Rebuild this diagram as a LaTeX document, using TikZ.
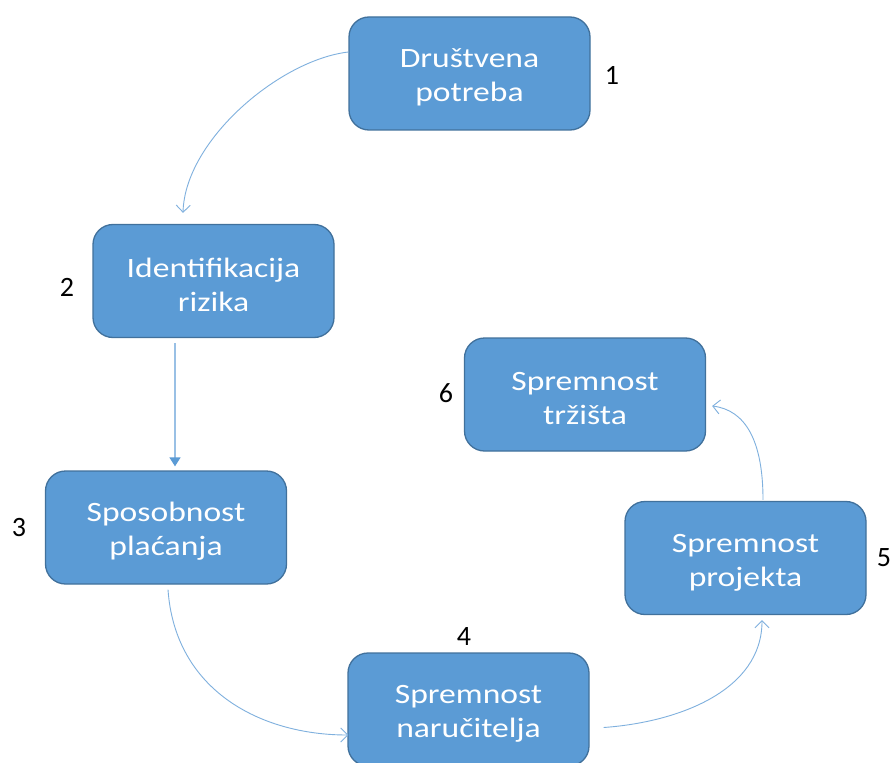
\documentclass[tikz,border=0pt]{standalone}
\usepackage{fontspec}
\setmainfont{Carlito}
\newfontfamily\boxfont[FakeStretch=1.2]{Carlito}
\usetikzlibrary{arrows.meta,calc}
\definecolor{boxfill}{HTML}{5B9BD5}
\definecolor{boxline}{HTML}{41719C}
\definecolor{arrowcol}{HTML}{7FB0DE}
\newcommand{\lowertext}{\rule{0pt}{27pt}}
\tikzset{
  stepbox/.style={draw=boxline, line width=1.3pt, fill=boxfill, rounded corners=20pt,
    minimum width=241pt, minimum height=113pt, align=center, text=white,
    font=\boxfont\fontsize{28}{34}\selectfont, inner sep=0pt},
  numlabel/.style={font=\fontsize{28}{34}\selectfont, text=black, inner sep=0pt},
  conn/.style={draw=arrowcol, line width=0.9pt, -{Straight Barb[length=7pt,width=14pt]}},
  connf/.style={draw=arrowcol!80, line width=1.4pt, -{Triangle[length=9pt,width=11pt,fill=boxfill,color=boxfill]}}
}
\begin{document}
\begin{tikzpicture}[x=1pt,y=-1pt]
\useasboundingbox (0,0) rectangle (890,762);
\clip (0,0) rectangle (890,762);
\fill[white] (0,0) rectangle (890,762);
\node[stepbox] (b1) at (469.5,73.5) {\lowertext Društvena\\potreba};
\node[stepbox] (b2) at (213.5,281) {\lowertext Identifikacija\\rizika};
\node[stepbox] (b3) at (166,527.5) {\lowertext Sposobnost\\plaćanja};
\node[stepbox] (b4) at (468.5,709.5) {\lowertext Spremnost\\naručitelja};
\node[stepbox] (b5) at (745.5,558) {\lowertext Spremnost\\projekta};
\node[stepbox] (b6) at (585,394.5) {\lowertext Spremnost\\tržišta};
\node[numlabel] (n1) at (612,75) {1};
\node[numlabel] (n2) at (67,287) {2};
\node[numlabel] (n3) at (19,528) {3};
\node[numlabel] (n4) at (464,637) {4};
\node[numlabel] (n5) at (884,558) {5};
\node[numlabel] (n6) at (446,393) {6};
% connectors
\draw[conn] ([yshift=21.5pt]b1.west) .. controls (280,60) and (185,140) .. ([xshift=-30.5pt,yshift=11pt]b2.north);
\draw[connf] ([xshift=-38.5pt,yshift=-5pt]b2.south) -- ([xshift=9pt,yshift=4pt]b3.north);
\draw[conn] ([xshift=2pt,yshift=-5pt]b3.south) .. controls (175,690) and (260,735) .. ([xshift=1pt,yshift=-25.5pt]b4.west);
\draw[conn] ([xshift=14pt,yshift=-18pt]b4.east) .. controls (680,722) and (762,690) .. ([xshift=16.5pt,yshift=-5pt]b5.south);
\draw[conn] ([xshift=17.5pt,yshift=1pt]b5.north) .. controls (763,440) and (745,410) .. ([xshift=6pt,yshift=-11.5pt]b6.east);
\end{tikzpicture}
\end{document}
